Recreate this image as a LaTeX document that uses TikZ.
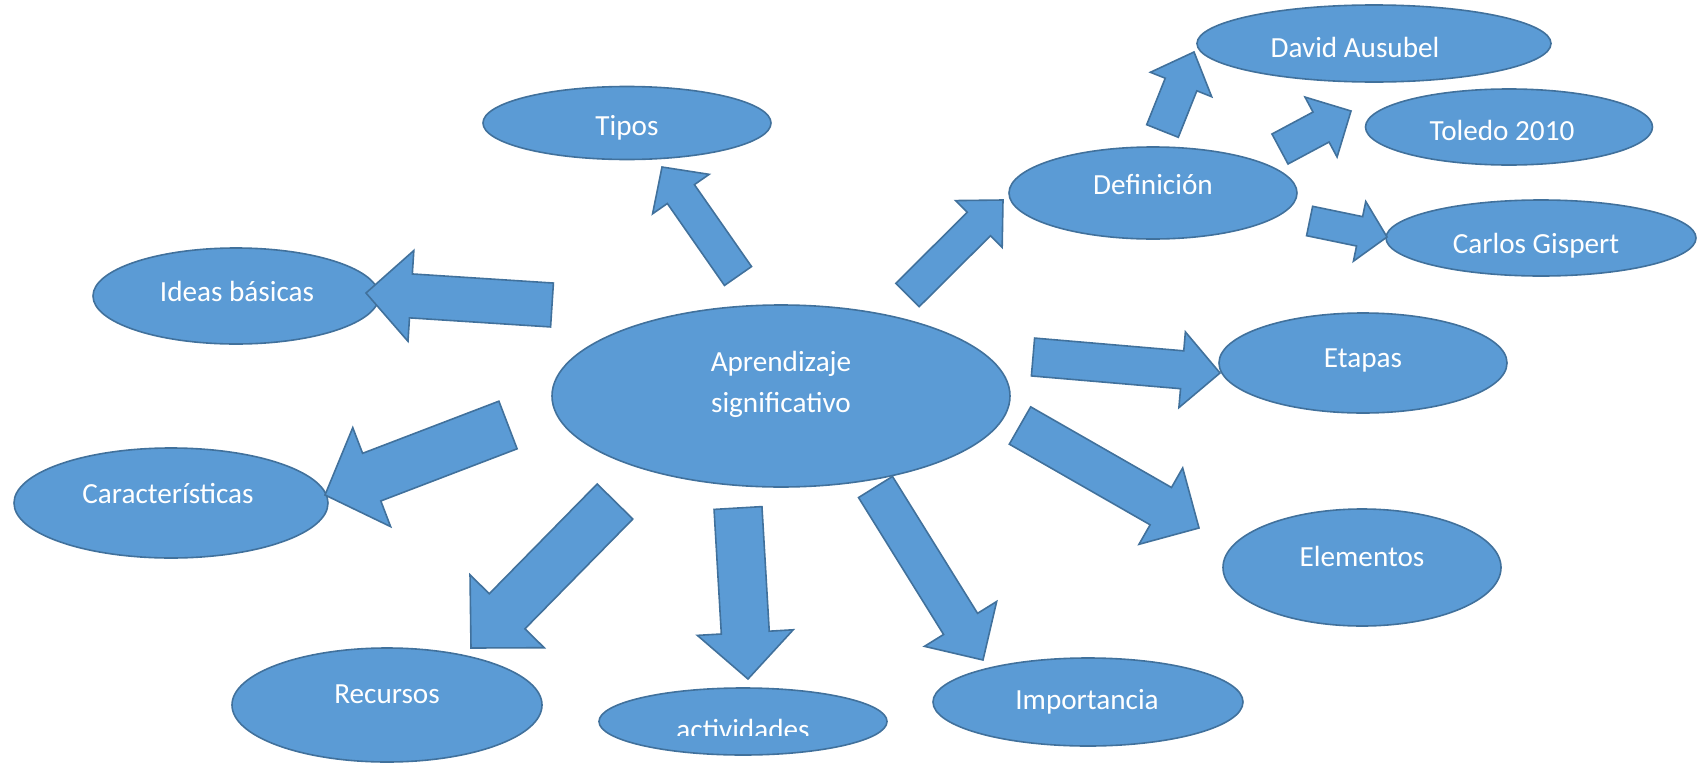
\documentclass[tikz,border=0pt]{standalone}
\usepackage{fontspec}
\setmainfont{Carlito}
\usetikzlibrary{shapes.geometric,calc}
\definecolor{bubblefill}{HTML}{5B9BD5}
\definecolor{bubbleedge}{HTML}{41719C}
\tikzset{
  bubble/.style={ellipse, draw=bubbleedge, fill=bubblefill, line width=1.6pt, inner sep=0pt},
  word/.style={anchor=base, inner sep=0pt, text=white, font=\fontsize{29.2}{35}\selectfont},
  fatarrow/.style={draw=bubbleedge, fill=bubblefill, line width=1.6pt, line join=miter},
}
% block arrow: tail, tip, half shaft, half head, head length
\newcommand{\blockarrow}[5]{%
  \coordinate (#1n) at ($(#2)!#5!(#1)$);
  \draw[fatarrow] ($(#1)!#3!90:(#2)$) -- ($(#1n)!#3!-90:(#1)$)
    -- ($(#1n)!#4!-90:(#1)$) -- (#2) -- ($(#1n)!#4!90:(#1)$)
    -- ($(#1n)!#3!90:(#1)$) -- ($(#1)!#3!-90:(#2)$) -- cycle;}
\begin{document}
\begin{tikzpicture}[x=1pt,y=-1pt]
\useasboundingbox (0,0) rectangle (1698,763);

\node[bubble, minimum width=458pt, minimum height=182pt] (central) at (781,396) {};
\node[bubble, minimum width=288pt, minimum height=73pt] (tipos) at (627,123) {};
\node[bubble, minimum width=286pt, minimum height=96pt] (ideas) at (236,296) {};
\node[bubble, minimum width=314pt, minimum height=110pt] (caract) at (171,503) {};
\node[bubble, minimum width=310pt, minimum height=114pt] (recursos) at (387,705) {};
\node[bubble, minimum width=288pt, minimum height=67pt] (activ) at (743,721.5) {};
\node[bubble, minimum width=310pt, minimum height=88pt] (import) at (1088,702) {};
\node[bubble, minimum width=278pt, minimum height=117pt] (elementos) at (1362,567.5) {};
\node[bubble, minimum width=288pt, minimum height=100pt] (etapas) at (1363,363) {};
\node[bubble, minimum width=288pt, minimum height=92pt] (defin) at (1153,193) {};
\node[bubble, minimum width=354pt, minimum height=77pt] (david) at (1374,43.5) {};
\node[bubble, minimum width=287pt, minimum height=76pt] (toledo) at (1509,127) {};
\node[bubble, minimum width=310pt, minimum height=76pt] (carlos) at (1541,238) {};

\coordinate (from-tipos) at (738,276);
\coordinate (to-tipos) at (662,167);
\coordinate (from-ideas) at (552,305);
\coordinate (to-ideas) at (366,293);
\coordinate (from-caract) at (508,425);
\coordinate (to-caract) at (325,495);
\coordinate (from-recursos) at (615,501.5);
\coordinate (to-recursos) at (471,648);
\coordinate (from-activ) at (738,508);
\coordinate (to-activ) at (748,679);
\coordinate (from-import) at (875.5,487);
\coordinate (to-import) at (983,660);
\coordinate (from-elementos) at (1020,425.5);
\coordinate (to-elementos) at (1199,528);
\coordinate (from-etapas) at (1033,357);
\coordinate (to-etapas) at (1220,373);
\coordinate (from-defin) at (907.5,295);
\coordinate (to-defin) at (1003,200);
\coordinate (from-david) at (1162.5,131);
\coordinate (to-david) at (1194,52);
\coordinate (from-toledo) at (1280,149);
\coordinate (to-toledo) at (1351,111);
\coordinate (from-carlos) at (1309.6,221);
\coordinate (to-carlos) at (1387,237);

\blockarrow{from-tipos}{to-tipos}{16.5pt}{34.5pt}{33pt}
\blockarrow{from-ideas}{to-ideas}{22pt}{45.5pt}{45pt}
\blockarrow{from-caract}{to-caract}{25.5pt}{53pt}{50pt}
\blockarrow{from-recursos}{to-recursos}{25pt}{52pt}{51.5pt}
\blockarrow{from-activ}{to-activ}{24pt}{48pt}{46.5pt}
\blockarrow{from-import}{to-import}{20pt}{42.5pt}{42.5pt}
\blockarrow{from-elementos}{to-elementos}{21.5pt}{44pt}{44pt}
\blockarrow{from-etapas}{to-etapas}{19pt}{38pt}{38pt}
\blockarrow{from-defin}{to-defin}{16.5pt}{33pt}{34pt}
\blockarrow{from-david}{to-david}{17pt}{33pt}{35pt}
\blockarrow{from-toledo}{to-toledo}{17pt}{34pt}{34pt}
\blockarrow{from-carlos}{to-carlos}{15pt}{30.5pt}{28pt}

\node[word] (central-a) at (781,371) {Aprendizaje};
\node[word] (central-b) at (781,412) {significativo};
\node[word] (tipos-t) at (627,135) {Tipos};
\node[word] (ideas-t) at (237,301) {Ideas básicas};
\node[word] (caract-t) at (168,503) {Características};
\node[word] (recursos-t) at (387,703) {Recursos};
\begin{scope}
  \clip (600,700) rectangle (890,735);
  \node[word] (activ-t) at (743,739) {actividades};
\end{scope}
\node[word] (import-t) at (1087,709) {Importancia};
\node[word] (elementos-t) at (1362,566) {Elementos};
\node[word] (etapas-t) at (1363,367) {Etapas};
\node[word] (defin-t) at (1153,194) {Definición};
\node[word] (david-t) at (1355,57) {David Ausubel};
\node[word] (toledo-t) at (1502,140) {Toledo 2010};
\node[word] (carlos-t) at (1536,253) {Carlos Gispert};
\end{tikzpicture}
\end{document}
